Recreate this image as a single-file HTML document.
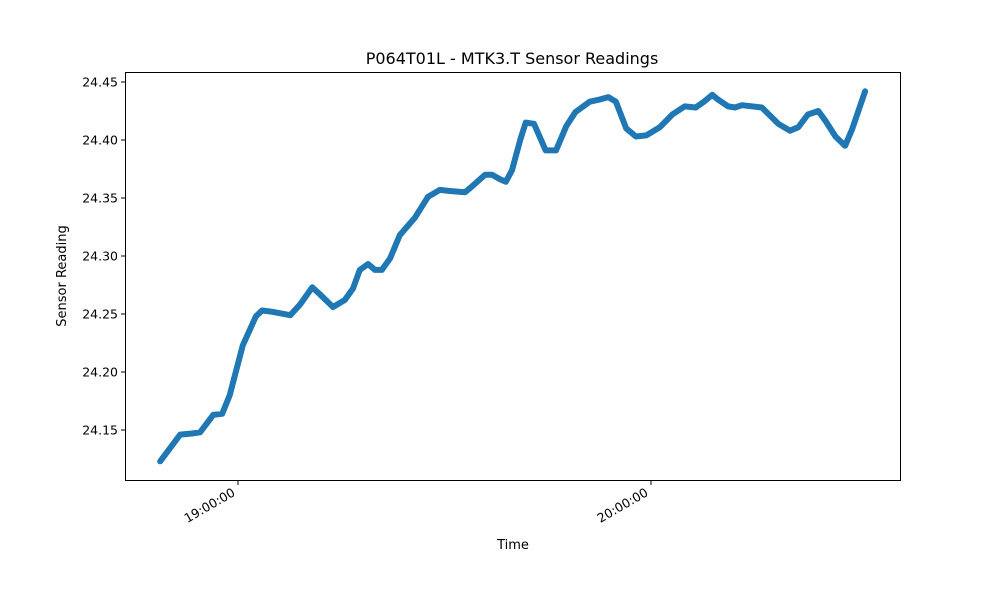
<!DOCTYPE html>
<html><head><meta charset="utf-8"><style>
body{margin:0;background:#fff;}
svg text{font-family:"DejaVu Sans","Liberation Sans",sans-serif;}
</style></head><body>
<svg id="chart" width="1000" height="600" xmlns="http://www.w3.org/2000/svg">
<rect width="1000" height="600" fill="#fff"/>
<text x="512" y="64" font-size="16" text-anchor="middle">P064T01L - MTK3.T Sensor Readings</text>
<g id="series"></g>
<rect x="125.5" y="72.5" width="775" height="408" fill="none" stroke="#000" stroke-width="1"/>
<g id="yticks"></g>
<g id="xticks"></g>
<text x="513" y="549" font-size="13" text-anchor="middle">Time</text>
<text transform="translate(66,276) rotate(-90)" font-size="13" text-anchor="middle">Sensor Reading</text>
</svg>
<script>
// minutes relative to 19:00:00
const minutes=[-11.3,-8.4,-6.7,-5.5,-3.6,-2.3,-1.2,0.7,2.6,3.5,4.9,7.6,9.0,10.8,11.9,13.8,15.5,16.7,17.7,18.9,19.9,20.9,22.1,23.5,25.7,27.6,29.3,30.8,33.0,34.0,35.9,36.9,38.1,38.9,39.8,41.0,41.8,43.0,44.7,46.2,47.7,49.0,51.1,52.6,53.8,54.9,56.4,57.8,59.3,61.3,63.1,64.9,66.5,67.7,68.9,69.7,71.2,72.2,73.2,76.1,78.5,80.2,81.4,82.8,84.3,85.3,86.8,88.2,89.2,91.1];
const readings=[24.123,24.146,24.147,24.148,24.163,24.164,24.180,24.223,24.248,24.253,24.252,24.249,24.258,24.273,24.267,24.256,24.262,24.272,24.288,24.293,24.288,24.288,24.298,24.318,24.333,24.351,24.357,24.356,24.355,24.360,24.370,24.370,24.366,24.364,24.374,24.400,24.415,24.414,24.391,24.391,24.412,24.424,24.433,24.435,24.437,24.433,24.410,24.403,24.404,24.411,24.422,24.429,24.428,24.433,24.439,24.435,24.429,24.428,24.430,24.428,24.414,24.408,24.411,24.422,24.425,24.417,24.403,24.395,24.409,24.442];
const yTicks=[24.15,24.20,24.25,24.30,24.35,24.40,24.45];
const xTickMinutes=[0,60];
const xTickLabels=["19:00:00","20:00:00"];
const NS="http://www.w3.org/2000/svg";
const xs=m=>238+m*(413/60);
const ys=v=>82+(24.45-v)*(58/0.05);
const s=document.getElementById('series');
const p=document.createElementNS(NS,'path');


let d='';
minutes.forEach((m,i)=>{d+=(i?'L':'M')+xs(m).toFixed(1)+','+ys(readings[i]).toFixed(1);});
p.setAttribute('d',d);
p.setAttribute('fill','none');p.setAttribute('stroke','#1f77b4');p.setAttribute('stroke-width','6');
p.setAttribute('stroke-linejoin','round');p.setAttribute('stroke-linecap','round');
s.appendChild(p);
const yg=document.getElementById('yticks');
yTicks.forEach(v=>{
 const y=ys(v);
 const l=document.createElementNS(NS,'line');
 
 
 l.setAttribute('x1',121);l.setAttribute('x2',125);l.setAttribute('y1',y);l.setAttribute('y2',y);l.setAttribute('stroke','#000');
 yg.appendChild(l);
 const t=document.createElementNS(NS,'text');
 
 
 t.setAttribute('x',118);t.setAttribute('y',y+4.5);t.setAttribute('font-size','12.5');t.setAttribute('text-anchor','end');
 t.textContent=v.toFixed(2);yg.appendChild(t);
});
const xg=document.getElementById('xticks');
xTickMinutes.forEach((m,i)=>{
 const x=xs(m);
 const l=document.createElementNS(NS,'line');
 
 
 l.setAttribute('x1',x);l.setAttribute('x2',x);l.setAttribute('y1',481);l.setAttribute('y2',485);l.setAttribute('stroke','#000');
 xg.appendChild(l);
 const t=document.createElementNS(NS,'text');
 
 
 t.setAttribute('transform','translate('+(x-2)+',495) rotate(-30)');t.setAttribute('font-size','12.5');t.setAttribute('text-anchor','end');
 t.textContent=xTickLabels[i];xg.appendChild(t);
});
</script>
</body></html>
